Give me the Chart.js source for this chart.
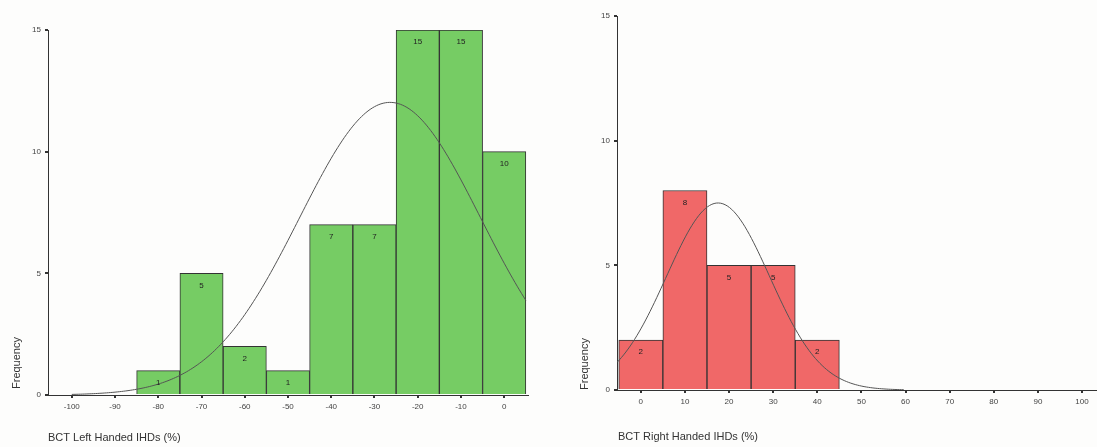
<!DOCTYPE html>
<html>
<head>
<meta charset="utf-8">
<script src="https://cdn.jsdelivr.net/npm/chart.js@4"></script>
<style>
  html, body { margin: 0; padding: 0; background: #fdfdfc; }
  #wrap { position: relative; width: 1097px; height: 447px; overflow: hidden; }
  canvas { position: absolute; top: 0; }
  #cl { left: 0; }
  #cr { left: 560px; }
</style>
</head>
<body>
<div id="wrap">
  <canvas id="cl" width="545" height="447"></canvas>
  <canvas id="cr" width="537" height="447"></canvas>
</div>
<script>
// ---- data ----
const leftBinCenters = [-80, -70, -60, -50, -40, -30, -20, -10, 0];
const leftCounts     = [1, 5, 2, 1, 7, 7, 15, 15, 10];
const leftXTicks     = [-100, -90, -80, -70, -60, -50, -40, -30, -20, -10, 0];
const leftFitMean = -26.4, leftFitSd = 20.9, leftN = 63;

const rightBinCenters = [0, 10, 20, 30, 40];
const rightCounts     = [2, 8, 5, 5, 2];
const rightXTicks     = [0, 10, 20, 30, 40, 50, 60, 70, 80, 90, 100];
const rightFitMean = 17.5, rightFitSd = 11.7, rightN = 22;

const yTicks = [0, 5, 10, 15];
const binWidth = 10;

const leftXTitle = 'BCT Left Handed IHDs (%)';
const rightXTitle = 'BCT Right Handed IHDs (%)';
const yTitle = 'Frequency';

// normal curve from fitted parameters
function normalCurve(mean, sd, n, from, to) {
  const pts = [];
  for (let x = from; x <= to + 1e-9; x += 0.5) {
    const z = (x - mean) / sd;
    pts.push({ x: x, y: n * binWidth / (sd * Math.sqrt(2 * Math.PI)) * Math.exp(-0.5 * z * z) });
  }
  return pts;
}

const FONT = '"Liberation Sans", Arial, sans-serif';

const barLabelPlugin = {
  id: 'barLabels',
  afterDatasetsDraw(chart) {
    const ctx = chart.ctx;
    const meta = chart.getDatasetMeta(0);
    ctx.save();
    ctx.font = '8px ' + FONT;
    ctx.fillStyle = '#222';
    ctx.textAlign = 'center';
    ctx.textBaseline = 'middle';
    meta.data.forEach((el, i) => {
      const v = chart.data.datasets[0].data[i].y;
      ctx.fillText(String(v), el.x, el.y + 12);
    });
    ctx.restore();
  }
};

const axisTitlePlugin = {
  id: 'axisTitles',
  afterDraw(chart, args, opts) {
    const ctx = chart.ctx;
    ctx.save();
    ctx.font = '11px ' + FONT;
    ctx.fillStyle = '#333';
    ctx.textBaseline = 'middle';
    ctx.textAlign = 'left';
    ctx.fillText(opts.xTitle, opts.xTitleX, opts.xTitleY);
    ctx.translate(opts.yTitleX, opts.yTitleY);
    ctx.rotate(-Math.PI / 2);
    ctx.fillText(opts.yTitle, 0, 0);
    ctx.restore();
  }
};

function makeChart(id, centers, counts, xTicks, fill, curve, geo) {
  const bars = centers.map((c, i) => ({ x: c, y: counts[i] }));
  return new Chart(document.getElementById(id), {
    type: 'bar',
    data: {
      datasets: [
        {
          type: 'bar',
          data: bars,
          backgroundColor: fill,
          borderColor: '#333',
          borderWidth: 1,
          barPercentage: 1,
          categoryPercentage: 1,
          order: 1
        },
        {
          type: 'line',
          data: curve,
          borderColor: '#555',
          borderWidth: 1,
          pointRadius: 0,
          tension: 0,
          fill: false,
          order: 0
        }
      ]
    },
    options: {
      responsive: false,
      devicePixelRatio: 1,
      animation: false,
      layout: { padding: { top: geo.top, right: geo.right, left: 0, bottom: 0 } },
      plugins: {
        legend: { display: false },
        tooltip: { enabled: false },
        axisTitles: geo.titles
      },
      scales: {
        x: {
          type: 'linear',
          offset: false,
          min: geo.xmin,
          max: geo.xmax,
          afterBuildTicks: s => { s.ticks = xTicks.map(v => ({ value: v })); },
          afterFit: s => { s.height = geo.xAxisH; },
          grid: { offset: false, drawOnChartArea: false, tickLength: 3, lineWidth: 2, color: '#333' },
          border: { display: true, color: '#333', width: 1 },
          ticks: { font: { size: 8, family: FONT }, color: '#444', padding: 4, maxRotation: 0, autoSkip: false }
        },
        y: {
          min: 0,
          max: 15,
          afterBuildTicks: s => { s.ticks = yTicks.map(v => ({ value: v })); },
          afterFit: s => { s.width = geo.yAxisW; },
          grid: { drawOnChartArea: false, tickLength: 3, lineWidth: 2, color: '#333' },
          border: { display: true, color: '#333', width: 1 },
          ticks: { font: { size: 8, family: FONT }, color: '#444', padding: 4 }
        }
      }
    },
    plugins: [barLabelPlugin, axisTitlePlugin]
  });
}

makeChart('cl', leftBinCenters, leftCounts, leftXTicks, 'rgb(118,204,100)',
  normalCurve(leftFitMean, leftFitSd, leftN, -100, 5),
  { top: 30, right: 17, xmin: -105.5, xmax: 5.5, xAxisH: 52, yAxisW: 48,
    titles: { xTitle: leftXTitle, xTitleX: 48, xTitleY: 438, yTitle: yTitle, yTitleX: 17, yTitleY: 389 } });

makeChart('cr', rightBinCenters, rightCounts, rightXTicks, 'rgb(240,104,104)',
  normalCurve(rightFitMean, rightFitSd, rightN, -5.4, 60),
  { top: 16, right: 0, xmin: -5.4, xmax: 103.4, xAxisH: 57, yAxisW: 57,
    titles: { xTitle: rightXTitle, xTitleX: 58, xTitleY: 437, yTitle: yTitle, yTitleX: 25, yTitleY: 390 } });
</script>
</body>
</html>
